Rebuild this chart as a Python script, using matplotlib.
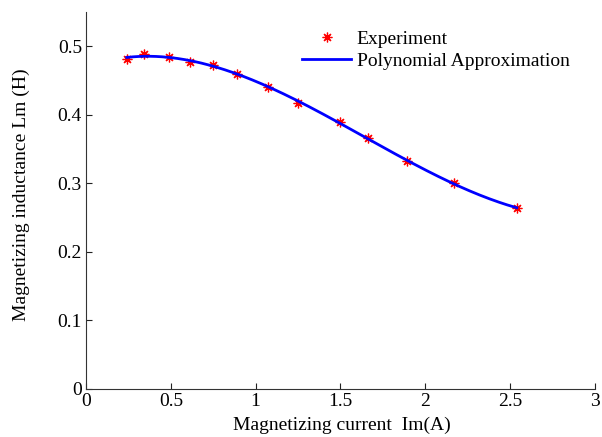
import numpy as np
import matplotlib.pyplot as plt

plt.rcParams['font.family'] = ['Liberation Serif', 'DejaVu Serif']
plt.rcParams['font.size'] = 14

im = [0.24, 0.34, 0.49, 0.61, 0.75, 0.89, 1.07, 1.25, 1.50, 1.66, 1.89, 2.17, 2.54]
lm = [0.481, 0.489, 0.484, 0.477, 0.473, 0.460, 0.441, 0.417, 0.389, 0.366, 0.333, 0.300, 0.264]

# Polynomial approximation of the experiment
coef = np.polyfit(im, lm, 3)
xs = np.linspace(min(im), max(im), 200)
ys = np.polyval(coef, xs)

fig = plt.figure(figsize=(6.02, 4.37), dpi=100)
ax = fig.add_axes([0.143, 0.110, 0.845, 0.8625])

ax.plot(im, lm, linestyle='none', marker=(8, 2, 0), color='red',
        markersize=7, markeredgewidth=0.9, label='Experiment')
ax.plot(xs, ys, color='blue', linewidth=2, label='Polynomial Approximation')

ax.set_xlim(0, 3)
ax.set_ylim(0, 0.55)
ax.set_xticks([0, 0.5, 1, 1.5, 2, 2.5, 3])
ax.set_xticklabels(['0', '0.5', '1', '1.5', '2', '2.5', '3'])
ax.set_yticks([0, 0.1, 0.2, 0.3, 0.4, 0.5])
ax.set_yticklabels(['0', '0.1', '0.2', '0.3', '0.4', '0.5'])
ax.tick_params(direction='in', length=4, width=0.8, colors='#222222',
               labelcolor='black', pad=3)
for s in ['top', 'right']:
    ax.spines[s].set_visible(False)
for s in ['left', 'bottom']:
    ax.spines[s].set_color('#333333')
    ax.spines[s].set_linewidth(0.8)

ax.set_xlabel('Magnetizing current  Im(A)', va='center')
ax.set_ylabel('Magnetizing inductance Lm (H)', va='center')
ax.xaxis.set_label_coords(0.503, -0.096)
ax.yaxis.set_label_coords(-0.127, 0.515)

ax.legend(loc='upper left', bbox_to_anchor=(0.425, 0.952), frameon=False,
          borderpad=0, borderaxespad=0, handlelength=2.5,
          handletextpad=0.3, labelspacing=0.25)

fig.savefig('out.png', dpi=100)
